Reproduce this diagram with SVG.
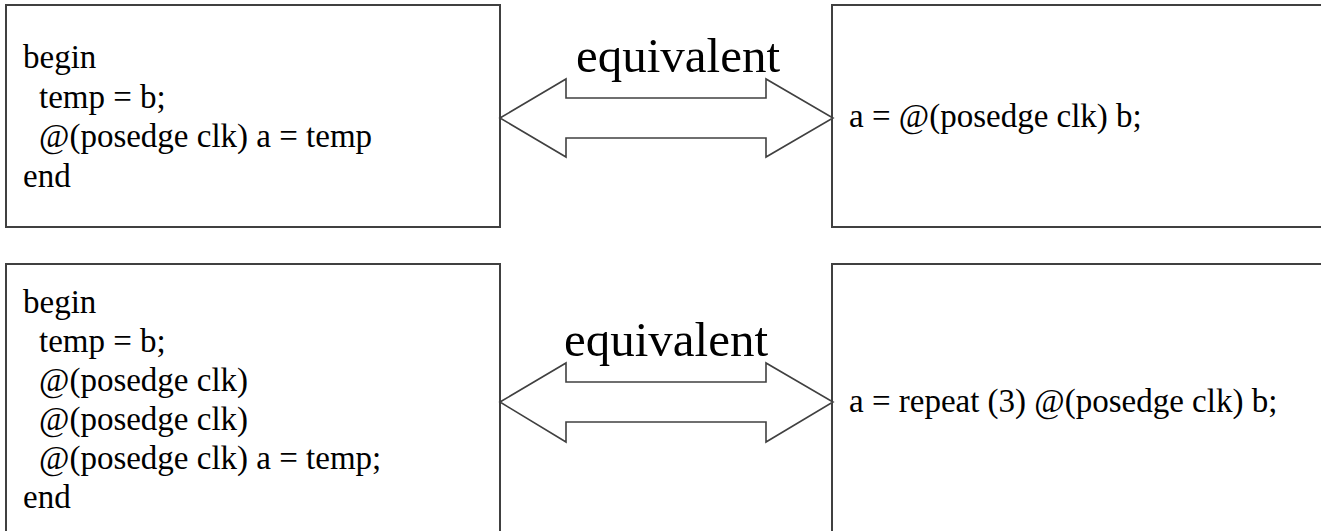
<svg xmlns="http://www.w3.org/2000/svg" width="1321" height="531" viewBox="0 0 1321 531">
<style>
.box{fill:#fff;stroke:#404040;stroke-width:2}
.arrow{fill:#fff;stroke:#404040;stroke-width:1.6;stroke-linejoin:miter}
.code{font-family:'Liberation Serif','Tinos','DejaVu Serif',serif;font-size:33px;fill:#000}
.lbl{font-family:'Liberation Serif','Tinos','DejaVu Serif',serif;font-size:49px;fill:#000}
</style>
<rect width="1321" height="531" fill="#fff"/>
<g id="node-top-left">
<rect class="box" x="6" y="5" width="494" height="222"/>
<text class="code" x="23" y="68">begin</text>
<text class="code" x="39" y="108">temp = b;</text>
<text class="code" x="39" y="147">@(posedge clk) a = temp</text>
<text class="code" x="23" y="187">end</text>
</g>
<g id="node-top-right">
<path class="box" d="M1325 5 H832 V227 H1325"/>
<text class="code" x="849" y="127">a = @(posedge clk) b;</text>
</g>
<g id="node-bottom-left">
<path class="box" d="M6 540 V264 H500 V540"/>
<text class="code" x="23" y="313">begin</text>
<text class="code" x="39" y="352">temp = b;</text>
<text class="code" x="39" y="391">@(posedge clk)</text>
<text class="code" x="39" y="430">@(posedge clk)</text>
<text class="code" x="39" y="469">@(posedge clk) a = temp;</text>
<text class="code" x="23" y="508">end</text>
</g>
<g id="node-bottom-right">
<path class="box" d="M1325 264 H832 V540"/>
<text class="code" x="849" y="412">a = repeat (3) @(posedge clk) b;</text>
</g>
<g id="connectors">
<path class="arrow" d="M500 118 L566 79 V98 H766 V79 L833 118 L766 157 V138 H566 V157 Z"/>
<text class="lbl" x="678" y="72" text-anchor="middle">equivalent</text>
<path class="arrow" d="M500 402 L566 363 V382 H766 V363 L833 402 L766 442 V422 H566 V442 Z"/>
<text class="lbl" x="666" y="356" text-anchor="middle">equivalent</text>
</g>
</svg>
